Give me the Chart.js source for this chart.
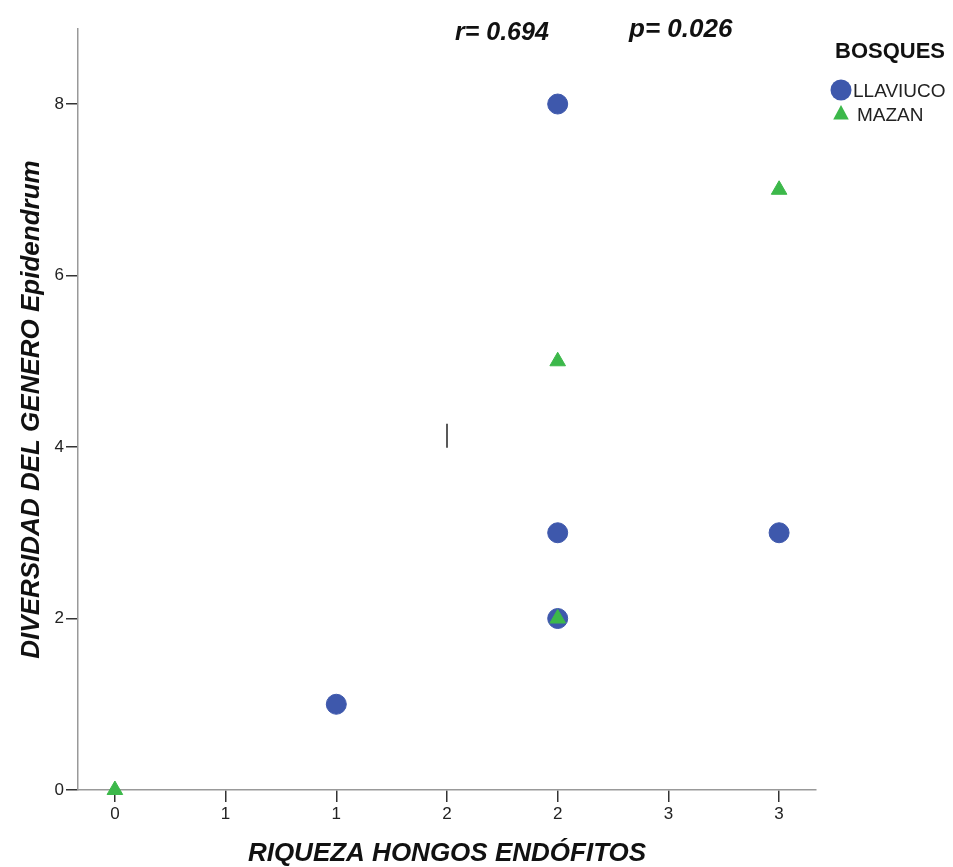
<!DOCTYPE html>
<html>
<head>
<meta charset="utf-8">
<script src="https://cdn.jsdelivr.net/npm/chart.js@4.4.1/dist/chart.umd.min.js"></script>
<style>
  html, body { margin: 0; padding: 0; background: #ffffff; }
  #wrap { width: 953px; height: 867px; position: relative; }
</style>
</head>
<body>
<div id="wrap"><canvas id="c" width="953" height="867"></canvas></div>
<script>
// Riqueza de hongos endófitos vs diversidad del género Epidendrum, por bosque
const seriesNames = ['LLAVIUCO', 'MAZAN'];
const llaviucoX = [2, 2, 2, 1, 3];
const llaviucoY = [8, 3, 2, 1, 3];
const mazanX = [0, 2, 2, 3];
const mazanY = [0, 5, 2, 7];
// short vertical reference segment
const markX = [1.5, 1.5];
const markY = [3.99, 4.27];

const xTickValues = [0, 0.5, 1, 1.5, 2, 2.5, 3];
const xTickLabels = ['0', '1', '1', '2', '2', '3', '3'];
const yTickValues = [0, 2, 4, 6, 8];
const yTickLabels = ['0', '2', '4', '6', '8'];

const statLabels = ['r= 0.694', 'p= 0.026'];
const legendTitle = 'BOSQUES';

const BLUE = '#3e58ac';
const GREEN = '#3cb84a';
const FONT = '"Liberation Sans", Arial, sans-serif';

const toPts = (xs, ys) => xs.map((x, i) => ({ x: x, y: ys[i] }));

const overlay = {
  id: 'overlay',
  afterDraw(chart) {
    const ctx = chart.ctx;
    ctx.save();
    // statistics text
    ctx.fillStyle = '#111';
    ctx.font = 'italic bold 25px ' + FONT;
    ctx.textBaseline = 'middle';
    ctx.textAlign = 'left';
    ctx.fillText(statLabels[0], 455, 33);
    ctx.font = 'italic bold 26px ' + FONT;
    ctx.fillText(statLabels[1], 629, 30);

    // legend
    ctx.font = 'bold 22px ' + FONT;
    ctx.fillText(legendTitle, 835, 52);
    ctx.font = '19px ' + FONT;
    const rows = [90, 114];
    [0, 1].forEach(i => {
      const ds = chart.data.datasets[i];
      ctx.fillStyle = ds.pointBackgroundColor;
      ctx.beginPath();
      if (ds.pointStyle === 'circle') {
        ctx.arc(841, rows[i], 10.5, 0, Math.PI * 2);
      } else {
        const r = 9;
        ctx.moveTo(841, rows[i] - r);
        ctx.lineTo(841 + r * Math.cos(Math.PI / 6), rows[i] + r * 0.5 + 1);
        ctx.lineTo(841 - r * Math.cos(Math.PI / 6), rows[i] + r * 0.5 + 1);
        ctx.closePath();
      }
      ctx.fill();
      ctx.fillStyle = '#222';
      ctx.fillText(ds.label, i === 0 ? 853 : 857, rows[i] + 2);
    });
    ctx.restore();
  }
};

new Chart(document.getElementById('c'), {
  type: 'scatter',
  data: {
    datasets: [
      {
        label: seriesNames[0],
        data: toPts(llaviucoX, llaviucoY),
        pointStyle: 'circle',
        pointRadius: 10,
        pointHoverRadius: 10,
        pointBackgroundColor: BLUE,
        pointBorderColor: BLUE,
        pointBorderWidth: 1,
        order: 2,
        clip: false
      },
      {
        label: seriesNames[1],
        data: toPts(mazanX, mazanY),
        pointStyle: 'triangle',
        pointRadius: 9,
        pointHoverRadius: 9,
        pointBackgroundColor: GREEN,
        pointBorderColor: GREEN,
        pointBorderWidth: 1,
        order: 1,
        clip: false
      },
      {
        label: 'marca',
        data: toPts(markX, markY),
        showLine: true,
        borderColor: '#222',
        borderWidth: 1.5,
        pointRadius: 0,
        order: 3
      }
    ]
  },
  options: {
    responsive: false,
    animation: false,
    events: [],
    layout: { padding: { left: 0, top: 29, right: 137, bottom: 0 } },
    plugins: {
      legend: { display: false },
      tooltip: { enabled: false }
    },
    scales: {
      x: {
        type: 'linear',
        min: -1 / 6,
        max: 3 + 1 / 6,
        afterFit(s) { s.height = 77; },
        afterBuildTicks(s) { s.ticks = xTickValues.map(v => ({ value: v })); },
        ticks: {
          autoSkip: false,
          maxRotation: 0,
          padding: 2,
          color: '#222',
          font: { family: FONT, size: 17 },
          callback(v, i) { return xTickLabels[i]; }
        },
        grid: { drawOnChartArea: false, drawTicks: true, tickLength: 12, color: '#333', lineWidth: 1.5 },
        border: { display: true, color: '#999', width: 1.5 },
        title: {
          display: true,
          text: 'RIQUEZA HONGOS ENDÓFITOS',
          color: '#111',
          font: { family: FONT, size: 26, weight: 'bold', style: 'italic' },
          padding: { top: 0, bottom: -2 }
        }
      },
      y: {
        type: 'linear',
        min: 0,
        max: 8.875,
        afterFit(s) { s.width = 78; },
        afterBuildTicks(s) { s.ticks = yTickValues.map(v => ({ value: v })); },
        ticks: {
          autoSkip: false,
          padding: 2,
          color: '#222',
          font: { family: FONT, size: 17 },
          callback(v, i) { return yTickLabels[i]; }
        },
        grid: { drawOnChartArea: false, drawTicks: true, tickLength: 12, color: '#333', lineWidth: 1.5 },
        border: { display: true, color: '#999', width: 1.5 },
        title: {
          display: true,
          text: 'DIVERSIDAD DEL GENERO Epidendrum',
          color: '#111',
          font: { family: FONT, size: 26, weight: 'bold', style: 'italic' },
          padding: { top: 16, bottom: 0 }
        }
      }
    }
  },
  plugins: [overlay]
});
</script>
</body>
</html>
